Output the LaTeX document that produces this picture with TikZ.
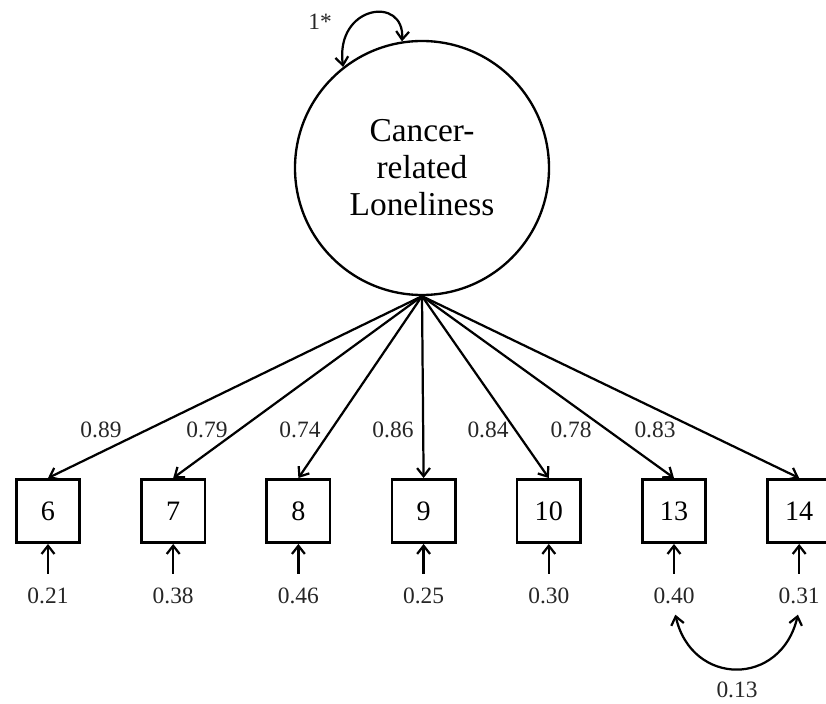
\documentclass[tikz,border=0pt]{standalone}
\usepackage{fontspec}
\setmainfont{Liberation Serif}
\usetikzlibrary{arrows.meta}

\newcommand{\itemgap}{125.2}

\begin{document}
\begin{tikzpicture}[x=0.03cm,y=-0.03cm,line width=1.9pt,>={Straight Barb[length=7pt,width=11pt]},
  item/.style={draw,line width=2.2pt,minimum size=1.9cm,inner sep=0pt,font=\fontsize{24}{28}\selectfont},
  num/.style={font=\fontsize{20}{24}\selectfont,text=black!85}]
  \useasboundingbox (0,0) rectangle (826,704);
  \node[draw,circle,line width=2pt,minimum size=7.62cm,align=center,font=\fontsize{28.5}{31.5}\selectfont] (lone) at (422,168) {Cancer-\\related\\Loneliness};
  \draw[<->] (lone.128) .. controls (335,5) and (405,-5) .. (lone.99);
  \node[num] (var) at (320,22) {1*};
  \foreach \n/\lo/\lx/\re [count=\k from 0] in {6/0.89/101/0.21,7/0.79/207/0.38,8/0.74/300/0.46,9/0.86/393/0.25,10/0.84/488/0.30,13/0.78/571/0.40,14/0.83/655/0.31}{
    \pgfmathsetmacro\bx{48+\itemgap*\k}
    \node[item] (i\n) at (\bx,511) {\n};
    \draw[->] (lone.south) -- (i\n.north);
    \node[num] (l\n) at (\lx,430) {\lo};
    \node[num] (e\n) at (\bx,596) {\re};
    \draw[->,shorten <=8pt] (e\n.north) -- (i\n.south);
  }
  % residual covariance
  \draw[<->,shorten <=5pt,shorten >=5pt] (e13.south) .. controls +(18,78) and +(-18,78) .. (e14.south);
  \node[num] (cov) at (737,690) {0.13};
\end{tikzpicture}
\end{document}
